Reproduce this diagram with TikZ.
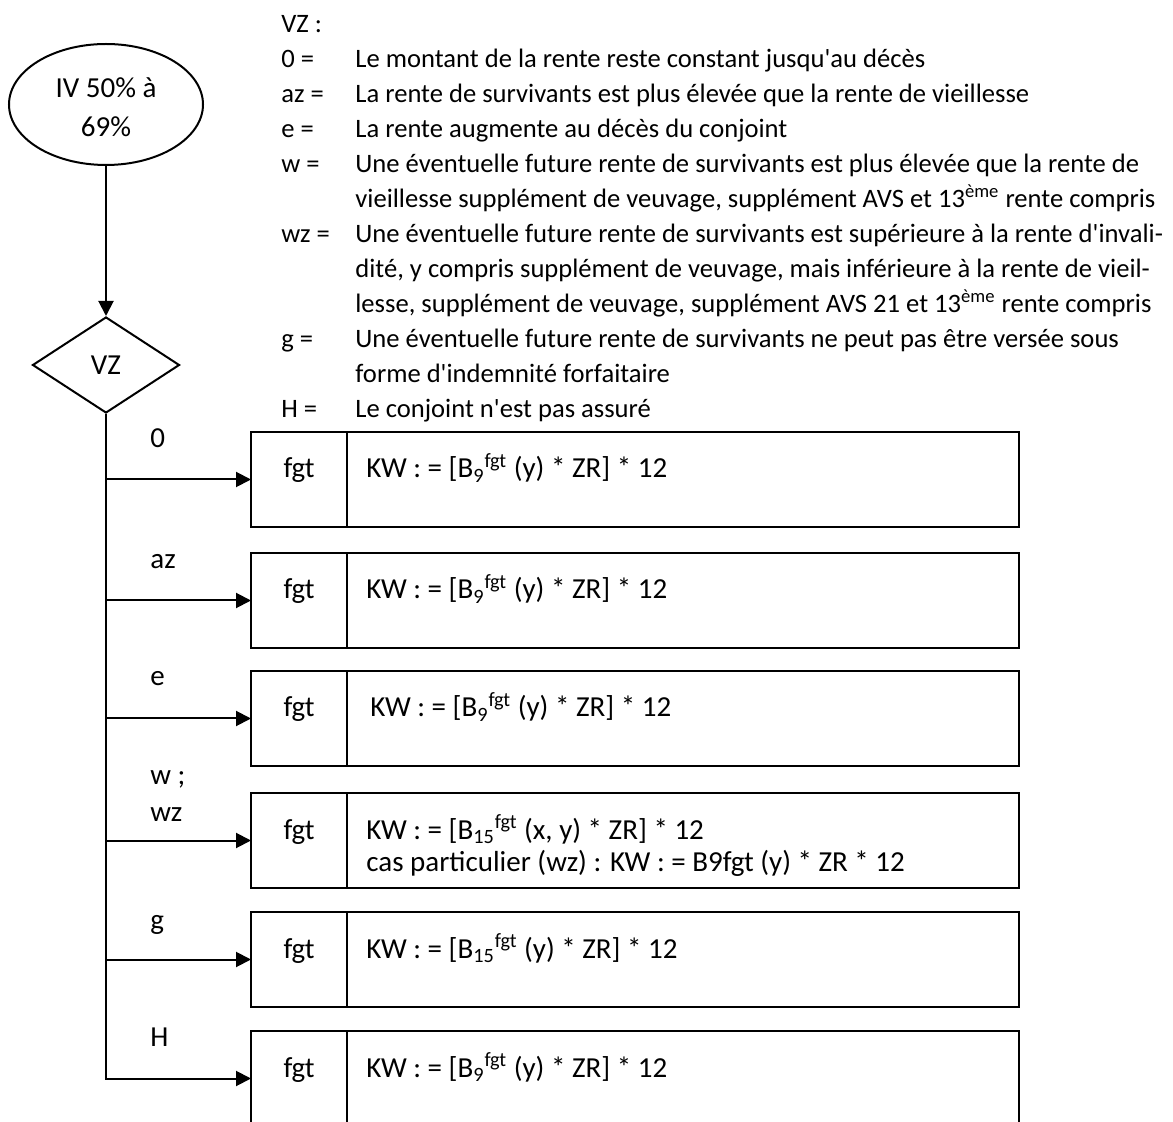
\documentclass[tikz,border=0pt]{standalone}
\usepackage{fontspec}
\setmainfont{Carlito}[Ligatures=TeXOff]
\usepackage{tikz}
\usetikzlibrary{math,shapes.geometric,arrows.meta}

\begin{document}
\begin{tikzpicture}[x=0.5pt,y=-0.5pt,
	every node/.style={inner sep=0pt,font=\fontsize{14.5}{17.5}\selectfont},
	legend/.style={anchor=base west,font=\fontsize{13.3}{17.5}\selectfont},
	cell/.style={draw,line width=1.2pt,outer sep=0pt,minimum height=47.5pt,anchor=north west},
	flow/.style={line width=1pt,-{Triangle[length=7.5pt,width=7.5pt]}}]
\tikzmath{
	\bx = 251;\cx = 106;
	\kx = 281;\tx = 355;\ly = 33;\ls = 35;
}
\useasboundingbox (0,0) rectangle (1173,1122);
\clip (0,0) rectangle (1173,1122);
%
\node[draw,ellipse,line width=1pt,minimum width=97pt,minimum height=60.5pt,
	align=center,text height=32.5pt,font=\fontsize{14.5}{19.5}\selectfont] (iv) at (\cx,104.5) {IV 50\% à\\69\%};
\node[draw,diamond,line width=1pt,minimum width=73.5pt,minimum height=48pt] (vz) at (\cx,365) {VZ};
\draw[flow] (iv) -- (vz);
%
\foreach \k/\n [count=\i] in {VZ :/0,0 =/1,az =/2,e =/3,w =/4,wz =/6,g =/9,H =/11}
	\node[legend] (key\i) at (\kx,{\ly+\ls*\n}) {\k};
\foreach \t [count=\i] in {Le montant de la rente reste constant jusqu'au décès,
	La rente de survivants est plus élevée que la rente de vieillesse,
	La rente augmente au décès du conjoint,
	Une éventuelle future rente de survivants est plus élevée que la rente de,
	{vieillesse supplément de veuvage, supplément AVS et 13\textsuperscript{ème} rente compris},
	Une éventuelle future rente de survivants est supérieure à la rente d'invali-,
	{dité, y compris supplément de veuvage, mais inférieure à la rente de vieil-},
	{lesse, supplément de veuvage, supplément AVS 21 et 13\textsuperscript{ème} rente compris},
	Une éventuelle future rente de survivants ne peut pas être versée sous,
	forme d'indemnité forfaitaire,
	Le conjoint n'est pas assuré}
	\node[legend] (line\i) at (\tx,{\ly+\ls*\i}) {\t};
%
\foreach \top [count=\n] in {432,553,671,793,912,1031}{
	\node[cell,minimum width=48pt] (f\n) at (\bx,\top) {};
	\node[cell,minimum width=336pt] (k\n) at (f\n.north east) {};
	\node[anchor=base] (fgt\n) at ([yshift=0.75pt]f\n.center) {fgt};
}
\draw[flow] (vz.south) |- (f6.west);
\foreach \n in {1,...,5}
	\draw[flow] (vz.south |- f\n.west) -- (f\n.west);
%
\path (f1.west) ++(-101,-32) node[anchor=base west] (l0) {0};
\path (f2.west) ++(-101,-32) node[anchor=base west] (laz) {az};
\path (f3.west) ++(-101,-33) node[anchor=base west] (le) {e};
\path (f4.west) ++(-101,-56) node[anchor=base west] (lw) {w ;};
\path (f4.west) ++(-101,-19) node[anchor=base west] (lwz) {wz};
\path (f5.west) ++(-101,-30) node[anchor=base west] (lg) {g};
\path (f6.west) ++(-101,-32) node[anchor=base west] (lh) {H};
%
\path (k1.west) ++(19,-1.5) node[anchor=base west] (kw1) {KW : = [B\textsubscript{9}\textsuperscript{fgt} (y) * ZR] * 12};
\path (k2.west) ++(19,-1.5) node[anchor=base west] (kw2) {KW : = [B\textsubscript{9}\textsuperscript{fgt} (y) * ZR] * 12};
\path (k3.west) ++(23,-1.5) node[anchor=base west] (kw3) {KW : = [B\textsubscript{9}\textsuperscript{fgt} (y) * ZR] * 12};
\path (k4.west) ++(19,-1.5) node[anchor=base west] (kw4) {KW : = [B\textsubscript{15}\textsuperscript{fgt} (x, y) * ZR] * 12};
\path (k4.west) ++(19,30.5) node[anchor=base west] (cas) {cas particulier (wz) : KW : = B9fgt (y) * ZR * 12};
\path (k5.west) ++(19,-1.5) node[anchor=base west] (kw5) {KW : = [B\textsubscript{15}\textsuperscript{fgt} (y) * ZR] * 12};
\path (k6.west) ++(19,-1.5) node[anchor=base west] (kw6) {KW : = [B\textsubscript{9}\textsuperscript{fgt} (y) * ZR] * 12};
\end{tikzpicture}
\end{document}
